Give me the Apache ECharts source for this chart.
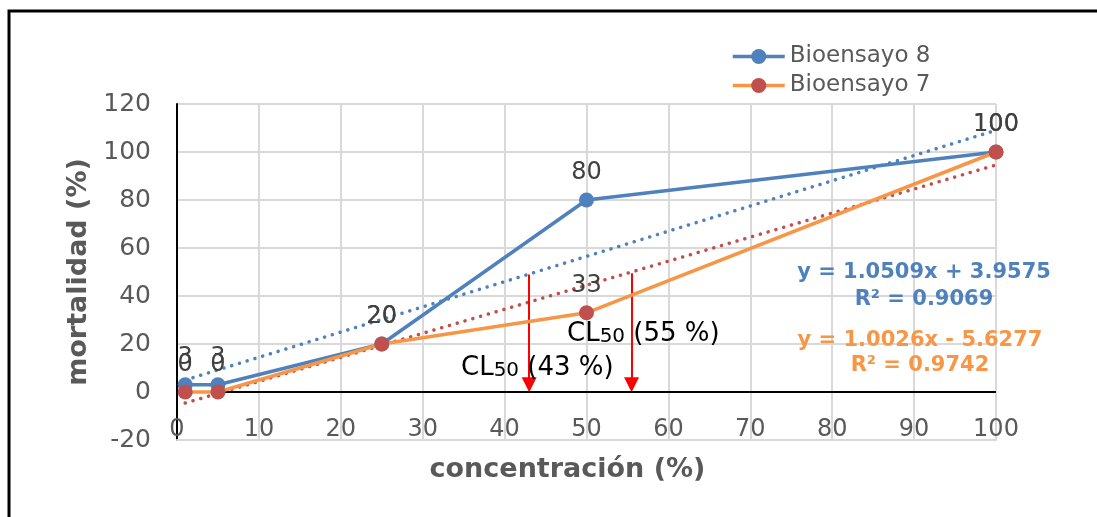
<!DOCTYPE html>
<html><head><meta charset="utf-8">
<script src="https://cdn.jsdelivr.net/npm/echarts@6/dist/echarts.min.js"></script>
<style>html,body{margin:0;padding:0;background:#fff}#c{width:1097px;height:517px}</style>
</head><body><div id="c"></div>
<script>
// ---- data ----
const concentrations = [1, 5, 25, 50, 100];
const bioensayo8 = [3, 3, 20, 80, 100];
const bioensayo7 = [0, 0, 20, 33, 100];
const trend8 = [[1, 5.0], [100, 109.05]];
const trend7 = [[1, -4.6], [100, 94.6]];
const cl50Arrows = [[43, 49, 3], [55.5, 49.5, 3]]; // x, top, shaft end
const cl50Texts = ['43 %', '55 %'];
const eq8 = ['y = 1.0509x + 3.9575', 'R² = 0.9069'];
const eq7 = ['y = 1.0026x - 5.6277', 'R² = 0.9742'];
const seriesNames = ['Bioensayo 8', 'Bioensayo 7'];
const xRange = [0, 100, 10];
const yRange = [-20, 120, 20];

const BLUE = '#4F81BD', ORANGE = '#F79646', RED = '#C0504D', GREY = '#595959';
const FONT = 'DejaVu Sans';

const pts = (ys) => concentrations.map((x, i) => [x, ys[i]]);
const dotted = (c) => ({ color: c, width: 3.5, type: [0.1, 8], cap: 'round' });
const richCL = {
  a: { fontSize: 26, fill: '#000', fontFamily: FONT, verticalAlign: 'bottom' },
  s: { fontSize: 20, fill: '#000', fontFamily: FONT, verticalAlign: 'bottom' }
};

const chart = echarts.init(document.getElementById('c'), null, { renderer: 'canvas' });
chart.setOption({
  animation: false,
  backgroundColor: '#fff',
  textStyle: { fontFamily: FONT },
  grid: { left: 177, right: 101, top: 104, bottom: 77 },
  legend: {
    data: seriesNames, orient: 'vertical', left: 731, top: 45, padding: 0,
    itemWidth: 52, itemHeight: 19, itemGap: 6,
    lineStyle: { width: 3.5 },
    textStyle: { fontSize: 23, color: GREY, fontFamily: FONT }
  },
  xAxis: {
    type: 'value', min: xRange[0], max: xRange[1], interval: xRange[2],
    axisLine: { onZero: false, lineStyle: { color: '#D9D9D9', width: 2 } },
    axisTick: { show: false },
    axisLabel: { inside: true, margin: -2, fontSize: 24, color: GREY, fontFamily: FONT, showMinLabel: true, showMaxLabel: true },
    splitLine: { lineStyle: { color: '#D9D9D9', width: 2 } },
    name: 'concentración (%)', nameLocation: 'middle', nameGap: 16,
    nameTextStyle: { fontSize: 27, fontWeight: 'bold', color: GREY, fontFamily: FONT, padding: [0, 38, 0, 0] }
  },
  yAxis: {
    type: 'value', min: yRange[0], max: yRange[1], interval: yRange[2],
    axisLine: { show: true, onZero: false, lineStyle: { color: '#000', width: 2 } },
    axisTick: { show: false },
    axisLabel: { margin: 26, fontSize: 25, color: GREY, fontFamily: FONT },
    splitLine: { lineStyle: { color: '#D9D9D9', width: 2 } },
    name: 'mortalidad (%)', nameLocation: 'middle', nameGap: 83,
    nameTextStyle: { fontSize: 27, fontWeight: 'bold', color: GREY, fontFamily: FONT }
  },
  series: [
    {
      name: 'trend8', type: 'line', data: trend8, symbol: 'none', silent: true,
      lineStyle: dotted(BLUE), z: 3,
      markLine: {
        silent: true, symbol: ['none', 'triangle'], symbolSize: 15,
        label: { show: false },
        lineStyle: { color: '#FF0000', width: 2, type: 'solid' },
        data: cl50Arrows.map(a => [{ coord: [a[0], a[1]] }, { coord: [a[0], a[2]] }])
      }
    },
    {
      name: 'trend7', type: 'line', data: trend7, symbol: 'none', silent: true,
      lineStyle: dotted(RED), z: 3
    },
    {
      name: seriesNames[0], type: 'line', data: pts(bioensayo8),
      symbol: 'circle', symbolSize: 15, color: BLUE,
      itemStyle: { color: BLUE }, lineStyle: { color: BLUE, width: 3.5 }, z: 4,
      label: { show: true, position: 'top', distance: 8, fontSize: 24, color: '#404040', fontFamily: FONT },
      markLine: {
        silent: true, symbol: 'none', label: { show: false },
        lineStyle: { color: '#000', width: 2, type: 'solid' },
        data: [{ yAxis: 0 }]
      }
    },
    {
      name: seriesNames[1], type: 'line', data: pts(bioensayo7),
      symbol: 'circle', symbolSize: 15, color: RED,
      itemStyle: { color: RED }, lineStyle: { color: ORANGE, width: 3.5 }, z: 5,
      label: { show: true, position: 'top', distance: 8, fontSize: 24, color: '#404040', fontFamily: FONT }
    }
  ],
  graphic: [
    { type: 'rect', shape: { x: 9, y: 11, width: 1300, height: 700 }, style: { fill: 'none', stroke: '#000', lineWidth: 3 }, silent: true, z: 100 },
    { type: 'text', left: 461, top: 355, z: 100, style: { text: '{a|CL}{s|50}{a| (' + cl50Texts[0] + ')}', rich: richCL } },
    { type: 'text', left: 567, top: 321, z: 100, style: { text: '{a|CL}{s|50}{a| (' + cl50Texts[1] + ')}', rich: richCL } },
    { type: 'text', x: 924, y: 273, z: 100, style: { text: eq8[0], fill: BLUE, font: 'bold 21px DejaVu Sans', align: 'center', verticalAlign: 'middle' } },
    { type: 'text', x: 924, y: 300, z: 100, style: { text: eq8[1], fill: BLUE, font: 'bold 21px DejaVu Sans', align: 'center', verticalAlign: 'middle' } },
    { type: 'text', x: 920, y: 341, z: 100, style: { text: eq7[0], fill: ORANGE, font: 'bold 21px DejaVu Sans', align: 'center', verticalAlign: 'middle' } },
    { type: 'text', x: 920, y: 366, z: 100, style: { text: eq7[1], fill: ORANGE, font: 'bold 21px DejaVu Sans', align: 'center', verticalAlign: 'middle' } }
  ]
});
</script>
</body></html>
